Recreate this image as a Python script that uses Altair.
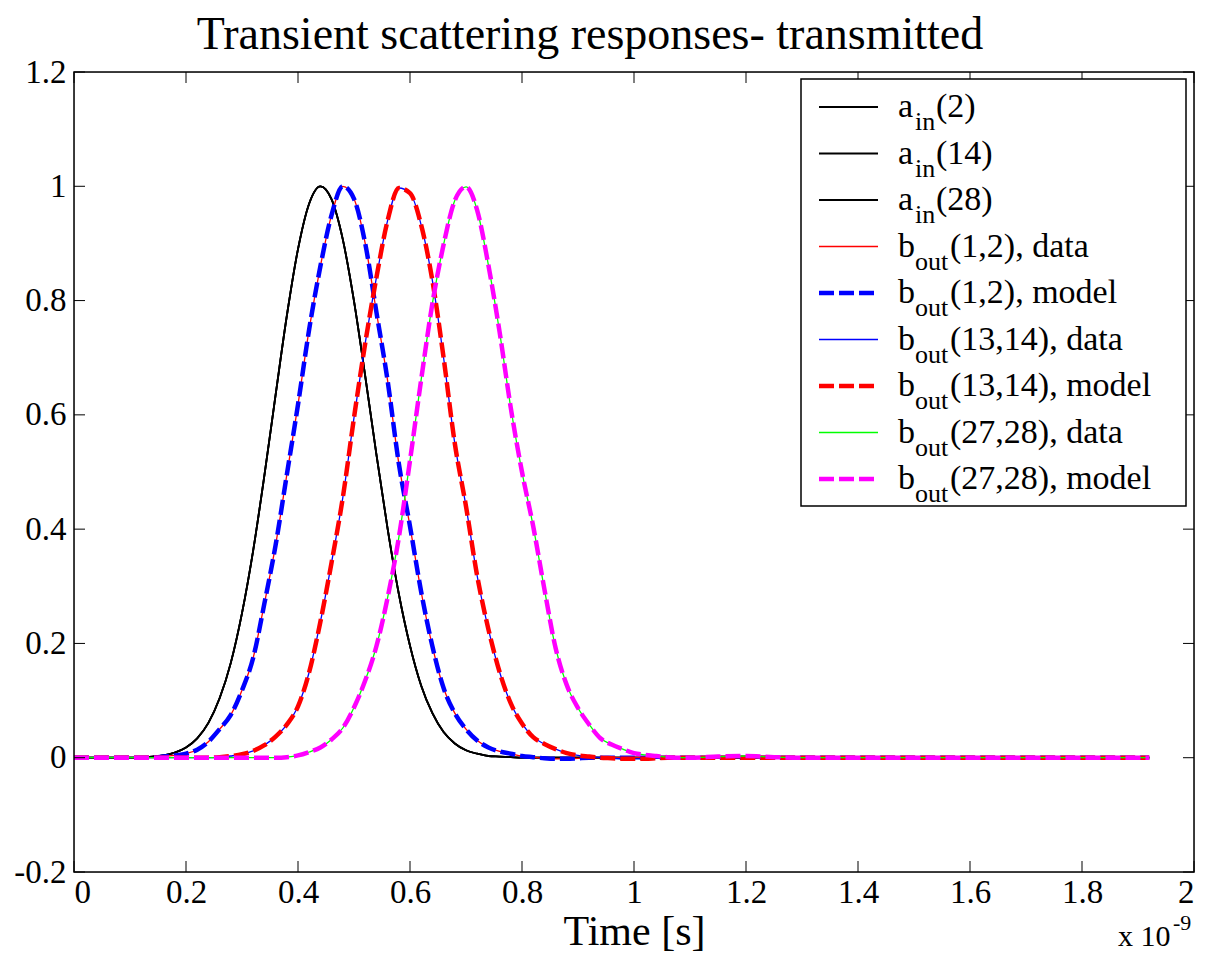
import altair as alt
import pandas as pd

# ---------------- data (time in units of 1e-9 s) ----------------
time_ns = [
    0.00, 0.05, 0.10, 0.12, 0.14, 0.16, 0.18, 0.20, 0.22, 0.24,
    0.26, 0.28, 0.30, 0.32, 0.34, 0.36, 0.38, 0.40, 0.42, 0.44,
    0.46, 0.48, 0.50, 0.52, 0.54, 0.56, 0.58, 0.60, 0.62, 0.64,
    0.66, 0.68, 0.70, 0.72, 0.74, 0.76, 0.78, 0.80, 0.82, 0.84,
    0.86, 0.88, 0.90, 0.92, 0.94, 0.96, 0.98, 1.00, 1.02, 1.04,
    1.06, 1.08, 1.10, 1.15, 1.20, 1.25, 1.30, 1.40, 1.50, 1.60,
    1.70, 1.80, 1.92]

a_in = [
    0, 0, 0, 0.001, 0.002, 0.004, 0.009, 0.018, 0.034, 0.061,
    0.104, 0.166, 0.253, 0.363, 0.494, 0.635, 0.773, 0.890, 0.970, 1.000,
    0.977, 0.907, 0.799, 0.668, 0.531, 0.401, 0.287, 0.196, 0.126, 0.078,
    0.045, 0.025, 0.013, 0.007, 0.003, 0.002, 0.001, 0, 0, 0,
    0, 0, 0, 0, 0, 0, 0, 0, 0, 0,
    0, 0, 0, 0, 0, 0, 0, 0, 0, 0,
    0, 0, 0]

b_1_2 = [
    0, 0, 0, 0, 0, 0.002, 0.004, 0.007, 0.014, 0.028,
    0.050, 0.075, 0.118, 0.175, 0.270, 0.372, 0.495, 0.618, 0.750, 0.860,
    0.950, 1.000, 0.978, 0.900, 0.780, 0.660, 0.515, 0.405, 0.290, 0.195,
    0.122, 0.078, 0.050, 0.030, 0.018, 0.011, 0.007, 0.003, 0.001, -0.001,
    -0.002, -0.002, -0.001, 0, 0, 0, 0, 0, 0, 0,
    0, 0, 0, 0, 0, 0, 0, 0, 0, 0,
    0, 0, 0]

b_13_14 = [
    0, 0, 0, 0, 0, 0, 0, 0, 0, 0,
    0.001, 0.003, 0.006, 0.012, 0.022, 0.037, 0.058, 0.090, 0.150, 0.238,
    0.342, 0.455, 0.595, 0.725, 0.840, 0.940, 0.997, 0.988, 0.932, 0.835,
    0.700, 0.550, 0.440, 0.318, 0.225, 0.150, 0.095, 0.060, 0.036, 0.024,
    0.015, 0.008, 0.004, 0.002, 0, -0.001, -0.002, -0.002, -0.002, -0.001,
    0, 0, 0, 0, 0, 0, 0, 0, 0, 0,
    0, 0, 0]

b_27_28 = [
    0, 0, 0, 0, 0, 0, 0, 0, 0, 0,
    0, 0, 0, 0, 0, 0, 0.001, 0.004, 0.010, 0.018,
    0.032, 0.052, 0.088, 0.135, 0.195, 0.280, 0.385, 0.520, 0.662, 0.795,
    0.898, 0.975, 0.999, 0.958, 0.862, 0.745, 0.612, 0.500, 0.405, 0.295,
    0.192, 0.127, 0.087, 0.058, 0.034, 0.023, 0.015, 0.008, 0.005, 0.003,
    0.001, 0, 0, 0.002, 0.003, 0.001, 0, 0, 0, 0,
    0, 0, 0]

series_names = ["a_in(2)", "a_in(14)", "a_in(28)",
                "b_out(1,2), data", "b_out(1,2), model",
                "b_out(13,14), data", "b_out(13,14), model",
                "b_out(27,28), data", "b_out(27,28), model"]
series_values = [a_in, a_in, a_in, b_1_2, b_1_2, b_13_14, b_13_14, b_27_28, b_27_28]

legend_main = ["a", "a", "a", "b", "b", "b", "b", "b", "b"]
legend_sub = ["in", "in", "in", "out", "out", "out", "out", "out", "out"]
legend_rest = ["(2)", "(14)", "(28)", "(1,2), data", "(1,2), model",
               "(13,14), data", "(13,14), model", "(27,28), data", "(27,28), model"]

x_ticks = [0, 0.2, 0.4, 0.6, 0.8, 1.0, 1.2, 1.4, 1.6, 1.8, 2.0]
y_ticks = [-0.2, 0, 0.2, 0.4, 0.6, 0.8, 1.0, 1.2]

title_text = "Transient scattering responses- transmitted"
x_title = "Time [s]"

# ---------------- styles ----------------
FONT = "Liberation Serif"
W, H = 1120, 800
TICK = 11
styles = [
    ("#000000", 1.8, None),
    ("#000000", 1.8, None),
    ("#000000", 1.8, None),
    ("#ff0000", 1.3, None),
    ("#0000ff", 4.5, [15, 5]),
    ("#0000ff", 1.3, None),
    ("#ff0000", 4.5, [15, 5]),
    ("#00ff00", 1.3, None),
    ("#ff00ff", 4.5, [15, 5]),
]

rows = []
for name, vals in zip(series_names, series_values):
    for t, v in zip(time_ns, vals):
        rows.append({"series": name, "t": t, "v": v})
df = pd.DataFrame(rows)

x_scale = alt.Scale(domain=[0, 2], nice=False, zero=False)
y_scale = alt.Scale(domain=[-0.2, 1.2], nice=False, zero=False)

x_axis = alt.Axis(values=x_ticks, ticks=False, tickSize=0, domain=False, grid=False,
                  labelFont=FONT, labelFontSize=33, labelColor="black", labelPadding=4,
                  labelExpr="format(datum.value, '~g')",
                  title=x_title, titleFont=FONT, titleFontSize=42, titleFontWeight="normal",
                  titleColor="black", titlePadding=2)
y_axis = alt.Axis(values=y_ticks, ticks=False, tickSize=0, domain=False, grid=False,
                  labelFont=FONT, labelFontSize=33, labelColor="black", labelPadding=8,
                  labelExpr="datum.value < 0 ? '-' + format(-datum.value, '~g') : format(datum.value, '~g')",
                  title=None)

X = alt.X("t:Q", scale=x_scale, axis=x_axis)
Y = alt.Y("v:Q", scale=y_scale, axis=y_axis)

main_layers = []
for name, (color, width, dash) in zip(series_names, styles):
    kw = dict(color=color, strokeWidth=width, interpolate="monotone")
    if dash:
        kw["strokeDash"] = dash
    main_layers.append(
        alt.Chart(df).transform_filter(alt.datum.series == name)
        .mark_line(**kw).encode(x=X, y=Y)
    )

xt_df = pd.DataFrame({"t": x_ticks})
yt_df = pd.DataFrame({"v": y_ticks})
main_layers.append(alt.Chart(xt_df).mark_rule(color="black", strokeWidth=1)
                   .encode(x=X, y=alt.value(H - TICK), y2=alt.value(H)))
main_layers.append(alt.Chart(xt_df).mark_rule(color="black", strokeWidth=1)
                   .encode(x=X, y=alt.value(0), y2=alt.value(TICK)))
main_layers.append(alt.Chart(yt_df).mark_rule(color="black", strokeWidth=1)
                   .encode(y=Y, x=alt.value(0), x2=alt.value(TICK)))
main_layers.append(alt.Chart(yt_df).mark_rule(color="black", strokeWidth=1)
                   .encode(y=Y, x=alt.value(W - TICK), x2=alt.value(W)))

# plot frame (box on)
main_layers.append(alt.Chart(pd.DataFrame({"k": [0]})).mark_rect(fillOpacity=0, stroke="black", strokeWidth=1.5)
                   .encode(x=alt.value(0), x2=alt.value(W), y=alt.value(0), y2=alt.value(H)))

one = pd.DataFrame({"s": ["x 10", "-9"]})
main_layers.append(alt.Chart(one).transform_filter(alt.datum.s == "x 10")
                   .mark_text(font=FONT, fontSize=30, align="left", baseline="alphabetic", color="black")
                   .encode(text="s:N", x=alt.value(1044), y=alt.value(H + 74)))
main_layers.append(alt.Chart(one).transform_filter(alt.datum.s == "-9")
                   .mark_text(font=FONT, fontSize=22, align="left", baseline="alphabetic", color="black")
                   .encode(text="s:N", x=alt.value(1099), y=alt.value(H + 58)))

main = alt.layer(*main_layers)

# ---------------- legend ----------------
leg_df = pd.DataFrame({"row": list(range(len(series_names))), "name": series_names,
                       "main": legend_main, "sub": legend_sub, "rest": legend_rest})
row_y = alt.Y("row:Q", scale=alt.Scale(domain=[0, 8], range=[35, 407]), axis=None)

LX = W - 393  # legend box left, inside the plot
leg_layers = [
    alt.Chart(pd.DataFrame({"k": [0]})).mark_rect(fill="white", stroke="black", strokeWidth=1.5)
    .encode(x=alt.value(LX), x2=alt.value(LX + 385), y=alt.value(7), y2=alt.value(434))
]
for name, (color, width, dash) in zip(series_names, styles):
    kw = dict(color=color, strokeWidth=width)
    if dash:
        kw["strokeDash"] = dash
    leg_layers.append(
        alt.Chart(leg_df).transform_filter(alt.datum.name == name)
        .mark_rule(**kw).encode(x=alt.value(LX + 18), x2=alt.value(LX + 77), y=row_y)
    )
leg_layers.append(alt.Chart(leg_df).mark_text(font=FONT, fontSize=34, align="left",
                                               baseline="alphabetic", dy=10, color="black")
                  .encode(x=alt.value(LX + 97), y=row_y, text="main:N"))
leg_layers.append(alt.Chart(leg_df).mark_text(font=FONT, fontSize=26, align="left",
                                               baseline="alphabetic", dy=23, color="black")
                  .encode(x=alt.value(LX + 114), y=row_y, text="sub:N"))
leg_layers.append(alt.Chart(leg_df).transform_filter(alt.datum.sub == "in")
                  .mark_text(font=FONT, fontSize=34, align="left", baseline="alphabetic",
                             dy=10, color="black")
                  .encode(x=alt.value(LX + 135), y=row_y, text="rest:N"))
leg_layers.append(alt.Chart(leg_df).transform_filter(alt.datum.sub == "out")
                  .mark_text(font=FONT, fontSize=34, align="left", baseline="alphabetic",
                             dy=10, color="black")
                  .encode(x=alt.value(LX + 149), y=row_y, text="rest:N"))
legend = alt.layer(*leg_layers)

chart = (
    alt.layer(main, legend)
    .resolve_scale(y="independent")
    .properties(
        width=W, height=H,
        title=alt.TitleParams(title_text, font=FONT, fontSize=46, fontWeight="normal",
                              color="black", anchor="middle", frame="group", dx=-44, offset=-3),
        padding={"left": 5, "top": 4, "right": 0, "bottom": 0},
    )
    .configure_view(strokeWidth=0)
    .configure(background="white")
)

chart.save("out.html", embed_options={"renderer": "svg", "actions": False})
